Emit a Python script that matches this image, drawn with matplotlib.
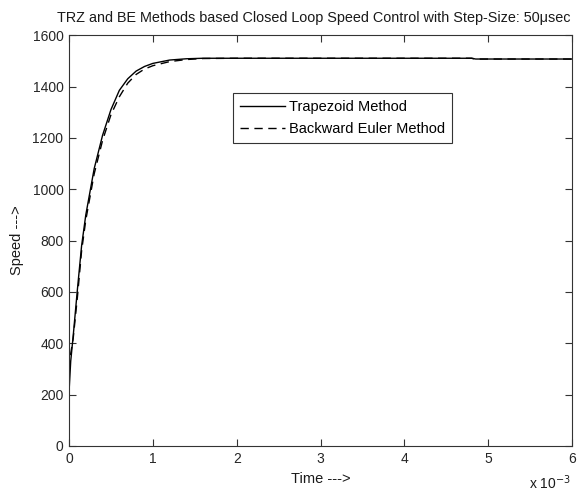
import matplotlib
matplotlib.use('Agg')
import matplotlib.pyplot as plt
import numpy as np

plt.rcParams['font.family'] = ['Liberation Sans', 'DejaVu Sans']

# time in units of 1e-3 s, speed values
t_trz = [0, 0.02, 0.05, 0.1, 0.15, 0.2, 0.3, 0.4, 0.5, 0.6, 0.7, 0.8, 0.9,
         1.0, 1.2, 1.4, 1.6, 2.0, 3.0, 4.0, 4.8, 4.85, 6.0]
speed_trz = [210, 330, 430, 610, 780, 900, 1080, 1210, 1310, 1385, 1430, 1460, 1478,
             1490, 1503, 1508, 1510, 1510, 1510, 1510, 1510, 1507, 1507]

t_be = [0, 0.02, 0.05, 0.1, 0.15, 0.2, 0.3, 0.4, 0.5, 0.6, 0.7, 0.8, 0.9,
        1.0, 1.2, 1.4, 1.6, 2.0, 3.0, 4.0, 4.8, 4.85, 6.0]
speed_be = [300, 360, 420, 580, 760, 880, 1060, 1190, 1290, 1360, 1413, 1447, 1468,
            1481, 1497, 1505, 1509, 1510, 1510, 1510, 1510, 1507, 1507]

xticks = [0, 1, 2, 3, 4, 5, 6]
yticks = [0, 200, 400, 600, 800, 1000, 1200, 1400, 1600]

fig = plt.figure(figsize=(5.85, 4.95), dpi=100)
ax = fig.add_axes([0.118, 0.099, 0.860, 0.830])

ax.plot(t_trz, speed_trz, 'k-', lw=1.0, label='Trapezoid Method')
ax.plot(t_be, speed_be, 'k--', lw=1.0, dashes=(6, 4), label='Backward Euler Method')

ax.set_xlim(0, 6)
ax.set_ylim(0, 1600)
ax.set_xticks(xticks)
ax.set_yticks(yticks)
ax.tick_params(direction='in', top=True, right=True, labelsize=10, length=5,
               width=0.8, color='0.2', labelcolor='0.15', pad=4)
for s in ax.spines.values():
    s.set_linewidth(0.8)
    s.set_color('0.2')

fig.text(0.537, 0.955,
         'TRZ and BE Methods based Closed Loop Speed Control with Step-Size: 50\u03bcsec',
         fontsize=10.4, color='0.1', ha='center', va='baseline')
ax.set_xlabel('Time --->', fontsize=10.5, labelpad=5, color='0.1')
ax.set_ylabel('Speed --->', fontsize=10.5, labelpad=6, color='0.1')
fig.text(0.905, 0.012, 'x 10$^{-3}$', fontsize=10, color='0.1')

leg = ax.legend(loc='upper left', bbox_to_anchor=(0.326, 0.859), fontsize=10.5,
                fancybox=False, edgecolor='0.2', framealpha=1, handlelength=3.1,
                borderpad=0.45, labelspacing=0.6, handletextpad=0.3, borderaxespad=0)
leg.get_frame().set_linewidth(0.8)

fig.savefig('out.png', dpi=100)
